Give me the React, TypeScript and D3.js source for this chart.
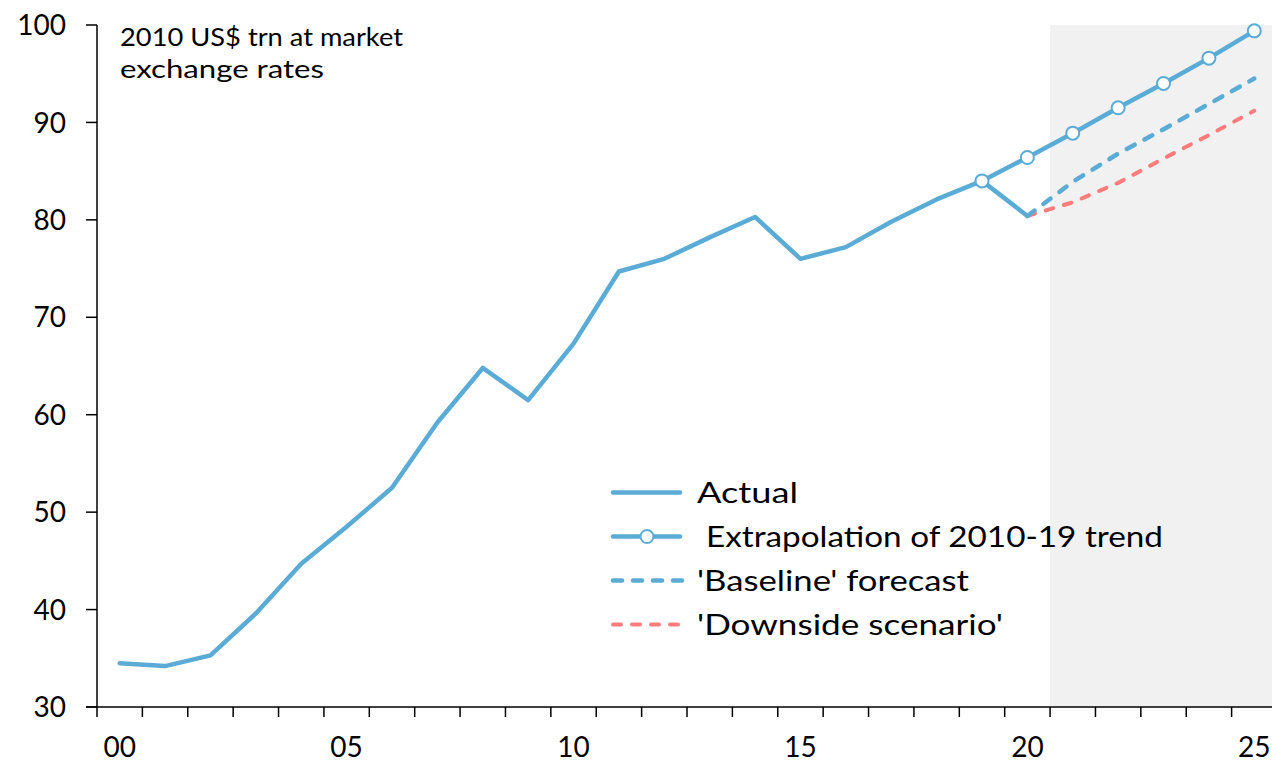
import React from "react";
import * as d3 from "d3";

const years = d3.range(2000, 2026);
const actualYears = d3.range(2000, 2021);
const actualValues = [34.5, 34.2, 35.3, 39.6, 44.7, 48.5, 52.5, 59.2, 64.8, 61.5, 67.3, 74.7, 76.0, 78.2, 80.3, 76.0, 77.2, 79.8, 82.1, 84.0, 80.4];
const trendYears = d3.range(2019, 2026);
const trendValues = [84.0, 86.4, 88.9, 91.5, 94.0, 96.6, 99.4];
const fcYears = d3.range(2020, 2026);
const baselineValues = [80.4, 83.9, 86.8, 89.3, 91.9, 94.5];
const downsideValues = [80.4, 81.8, 83.8, 86.3, 88.7, 91.2];
const yTicks = [30, 40, 50, 60, 70, 80, 90, 100];
const xLabelYears = [2000, 2005, 2010, 2015, 2020, 2025];
const shadeFrom = 2021;
const unitLines = ["2010 US$ trn at market", "exchange rates"];
const legendLabels = ["Actual", "Extrapolation of 2010-19 trend", "'Baseline' forecast", "'Downside scenario'"];

const BLUE = "#5AACD6";
const RED = "#FF7C7C";
const FONT = "'Lato', 'Noto Sans', sans-serif";

export default function App() {
  const W = 1272, H = 762;
  const x = d3.scaleBand<number>().domain(years).range([97, 1277]).padding(0);
  const bw = x.bandwidth();
  const cx = (yr: number) => (x(yr) as number) + bw / 2;
  const y = d3.scaleLinear().domain([30, 100]).range([707, 25]);
  const line = d3.line<[number, number]>().x(d => cx(d[0])).y(d => y(d[1]));
  const zip = (ys: number[], vs: number[]) => ys.map((yr, i) => [yr, vs[i]] as [number, number]);
  const boundaries = d3.range(0, years.length + 1).map(i => 97 + i * bw);

  const kinds = ["solid", "marker", "dashBlue", "dashRed"];
  const legendTextX = [697, 706, 697, 697];
  const legendTextLen = [101, 457, 272, 306];
  const unitLen = [283, 204];

  return (
    <div style={{ position: "absolute", left: 0, top: 0 }}>
      <svg width={W} height={H} style={{ display: "block", fontFamily: FONT }}>
        <rect x={0} y={0} width={W} height={H} fill="#fff" />
        <rect x={x(shadeFrom) as number} y={y(100)} width={W - (x(shadeFrom) as number)} height={y(30) - y(100)} fill="#F1F1F1" />
        {/* axes */}
        <line x1={97} x2={97} y1={y(100)} y2={y(30)} stroke="#000" strokeWidth={1.5} />
        <line x1={86} x2={W} y1={y(30)} y2={y(30)} stroke="#000" strokeWidth={1.5} />
        {yTicks.map(t => (
          <g key={t}>
            <line x1={86} x2={97} y1={y(t)} y2={y(t)} stroke="#000" strokeWidth={1.5} />
            <text x={66} y={y(t)} dy="0.36em" textAnchor="end" fontSize={28} fill="#000">{t}</text>
          </g>
        ))}
        {boundaries.map((b, i) => (
          <line key={i} x1={b} x2={b} y1={y(30)} y2={y(30) + 10} stroke="#000" strokeWidth={1.5} />
        ))}
        {xLabelYears.map(yr => (
          <text key={yr} x={cx(yr)} y={757} textAnchor="middle" fontSize={28} fill="#000">
            {String(yr % 100).padStart(2, "0")}
          </text>
        ))}
        {unitLines.map((t, i) => (
          <text key={t} x={120} y={46 + i * 32} fontSize={25} fill="#000" textLength={unitLen[i]} lengthAdjust="spacingAndGlyphs">{t}</text>
        ))}
        {/* series */}
        <path d={line(zip(fcYears, downsideValues)) || ""} fill="none" stroke={RED} strokeWidth={4} strokeDasharray="8,11" strokeLinecap="round" />
        <path d={line(zip(fcYears, baselineValues)) || ""} fill="none" stroke={BLUE} strokeWidth={4.5} strokeDasharray="9,11" strokeLinecap="round" />
        <path d={line(zip(trendYears, trendValues)) || ""} fill="none" stroke={BLUE} strokeWidth={4.5} strokeLinecap="round" strokeLinejoin="round" />
        <path d={line(zip(actualYears, actualValues)) || ""} fill="none" stroke={BLUE} strokeWidth={4.5} strokeLinecap="round" strokeLinejoin="round" />
        {zip(trendYears, trendValues).map(d => (
          <circle key={d[0]} cx={cx(d[0])} cy={y(d[1])} r={6.5} fill="#fff" stroke={BLUE} strokeWidth={2} />
        ))}
        {/* legend */}
        {legendLabels.map((label, i) => {
          const ly = 492.5 + i * 44;
          const k = kinds[i];
          return (
            <g key={label}>
              {(k === "solid" || k === "marker") && <line x1={613} x2={680} y1={ly} y2={ly} stroke={BLUE} strokeWidth={4.5} strokeLinecap="round" />}
              {k === "marker" && <circle cx={647} cy={ly} r={6.5} fill="#fff" stroke={BLUE} strokeWidth={2} />}
              {k === "dashBlue" && <line x1={613} x2={684} y1={ly} y2={ly} stroke={BLUE} strokeWidth={4.5} strokeDasharray="9,11" strokeLinecap="round" />}
              {k === "dashRed" && <line x1={613} x2={684} y1={ly} y2={ly} stroke={RED} strokeWidth={4} strokeDasharray="8,11" strokeLinecap="round" />}
              <text x={legendTextX[i]} y={ly} dy="0.36em" fontSize={29} fill="#000" textLength={legendTextLen[i]} lengthAdjust="spacingAndGlyphs">{label}</text>
            </g>
          );
        })}
      </svg>
    </div>
  );
}
